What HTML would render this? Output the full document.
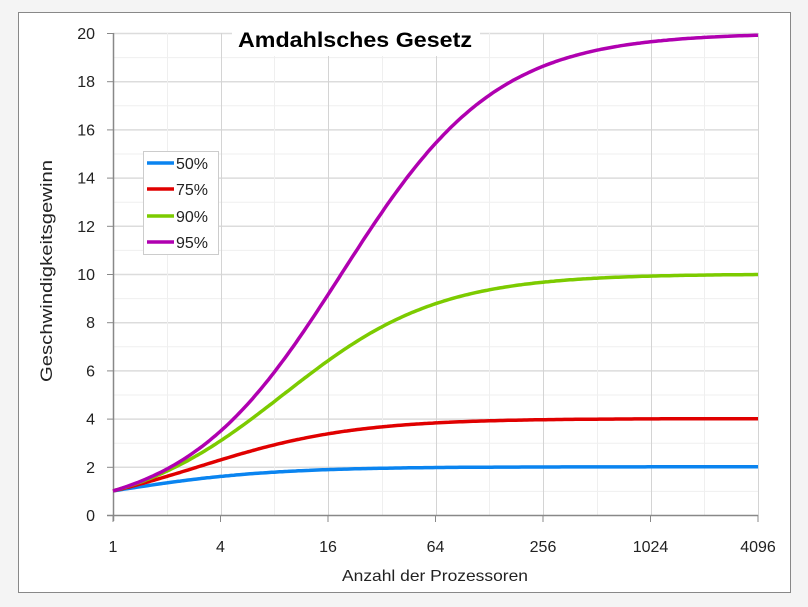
<!DOCTYPE html>
<html><head><style>
body{margin:0;background:#f4f4f4;}
svg{display:block;font-family:"Liberation Sans",sans-serif;}
</style></head><body>
<svg id="s" width="808" height="607" viewBox="0 0 808 607">
<rect x="0" y="0" width="808" height="607" fill="#f4f4f4"/>
<rect x="18.5" y="12.5" width="772" height="580" fill="#fff" stroke="#888" stroke-width="1"/>
<g id="grid"></g>
<rect x="232" y="24" width="248" height="32" fill="#fff"/>
<text x="238" y="47" textLength="234" lengthAdjust="spacingAndGlyphs" font-size="21" font-weight="bold" fill="#000">Amdahlsches Gesetz</text>
<g id="axes"></g>
<g id="curves" fill="none" stroke-width="3.5" stroke-linejoin="round"></g>
<rect x="143.5" y="151.5" width="75" height="103" fill="#fff" stroke="#ccc"/>
<g stroke-width="3.5">
<line x1="147" y1="163" x2="174" y2="163" stroke="#0a84f0"/>
<line x1="147" y1="189" x2="174" y2="189" stroke="#e00000"/>
<line x1="147" y1="216" x2="174" y2="216" stroke="#7ccb00"/>
<line x1="147" y1="242" x2="174" y2="242" stroke="#b000b0"/>
</g>
<g font-size="16" fill="#222">
<text x="176" y="169">50%</text><text x="176" y="195">75%</text>
<text x="176" y="222">90%</text><text x="176" y="248">95%</text>
</g>
<text x="342" y="581" textLength="186" lengthAdjust="spacingAndGlyphs" font-size="16" fill="#222">Anzahl der Prozessoren</text>
<text transform="translate(52,382) rotate(-90)" textLength="222" lengthAdjust="spacingAndGlyphs" font-size="17" fill="#222">Geschwindigkeitsgewinn</text>
</svg>
<script>
var ns="http://www.w3.org/2000/svg",X0=113,X1=758,Y0=515,Y20=33;
function sx(n){return X0+(X1-X0)*Math.log2(n)/12;}
function sy(v){return Y0-(Y0-Y20)*v/20;}
function el(p,t,a){var e=document.createElementNS(ns,t);for(var k in a)e.setAttribute(k,a[k]);p.appendChild(e);return e;}
var g=document.getElementById('grid'),ax=document.getElementById('axes');
for(var i=1;i<=20;i++){var y=sy(i)+.5;el(g,'line',{x1:X0,x2:X1,y1:y,y2:y,stroke:i%2?'#efefef':'#dcdcdc','stroke-width':i%2?1:1.5});}
for(var i=1;i<=12;i++){var x=Math.round(sx(Math.pow(2,i)))+.5;el(g,'line',{x1:x,x2:x,y1:Y20,y2:Y0,stroke:i%2?'#efefef':'#d4d4d4','stroke-width':1});}
el(ax,'line',{x1:X0+.5,x2:X0+.5,y1:Y20,y2:Y0+6,stroke:'#888','stroke-width':1.5});
el(ax,'line',{x1:X0-6,x2:X1,y1:Y0+.5,y2:Y0+.5,stroke:'#888','stroke-width':1.5});
for(var i=0;i<=20;i+=2){var y=sy(i);el(ax,'line',{x1:X0-6,x2:X0,y1:y+.5,y2:y+.5,stroke:'#888'});var t=el(ax,'text',{x:95,y:y+6,'text-anchor':'end','font-size':16,fill:'#222'});t.textContent=i;}
for(var i=0;i<=12;i+=2){var n=Math.pow(2,i),x=sx(n);el(ax,'line',{x1:x,x2:x,y1:Y0,y2:Y0+7,stroke:'#888'});var t=el(ax,'text',{x:x,y:552,'text-anchor':'middle','font-size':16,fill:'#222'});t.textContent=n;}
var c=document.getElementById('curves');
[[.5,'#0a84f0'],[.75,'#e00000'],[.9,'#7ccb00'],[.95,'#b000b0']].forEach(function(s){
var d='';for(var k=0;k<=240;k++){var n=Math.pow(2,k/20),v=1/((1-s[0])+s[0]/n);d+=(k?'L':'M')+sx(n).toFixed(1)+','+sy(v).toFixed(1);}
el(c,'path',{d:d,stroke:s[1]});});
</script>
</body></html>
